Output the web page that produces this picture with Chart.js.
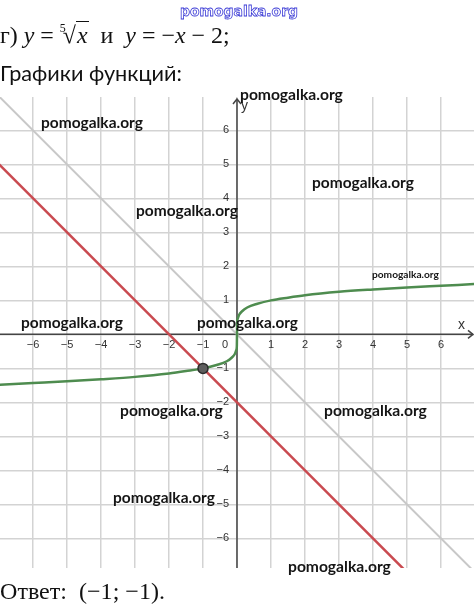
<!DOCTYPE html>
<html>
<head>
<meta charset="utf-8">
<script src="https://cdn.jsdelivr.net/npm/chart.js@4.4.0/dist/chart.umd.min.js"></script>
<style>
  html, body { margin: 0; padding: 0; background: #fff; }
  #wrap { position: relative; width: 474px; height: 608px; overflow: hidden; }
  #chart { position: absolute; left: 0; top: 0; }
  .t { position: absolute; left: 0; top: 0; white-space: nowrap; line-height: 1; }
  .wm { font-family: Lato, "Open Sans", sans-serif; font-weight: bold; color: #151515; font-size: 17px; }
  .serif { font-family: "Liberation Serif", "DejaVu Serif", serif; color: #111; font-size: 21px; }
  .serif i { font-style: italic; }
  .sans { font-family: Lato, "Open Sans", sans-serif; color: #111; font-size: 21px; }
  .blue { font-family: "DejaVu Sans", Verdana, sans-serif; font-weight: bold; font-size: 15px; color: #fff;
          -webkit-text-stroke: 0.8px #3b3bd6; }
  .rad { border-top: 1px solid #111; padding: 0 1px; }
  .idx { font-size: 0.5em; vertical-align: 0.9em; margin-right: -0.25em; }
</style>
</head>
<body>
<div id="wrap">
  <canvas id="chart" width="474" height="608"></canvas>
  <div class="t blue" id="wmTop">pomogalka.org</div>
  <div class="t serif" id="task">г) <i>y</i> = <span class="idx">5</span>√<span class="rad"><i>x</i></span>&nbsp; и&nbsp; <i>y</i> = −<i>x</i> − 2;</div>
  <div class="t sans" id="head">Графики функций:</div>
  <div class="t serif" id="answer">Ответ:&nbsp; (−1; −1).</div>
</div>
<script>
// values of the graph
const xTickValues = [-6, -5, -4, -3, -2, -1, 0, 1, 2, 3, 4, 5, 6];
const xTickLabels = ['−6', '−5', '−4', '−3', '−2', '−1', '0', '1', '2', '3', '4', '5', '6'];
const yTickValues = [-6, -5, -4, -3, -2, -1, 0, 1, 2, 3, 4, 5, 6];
const yTickLabels = ['−6', '−5', '−4', '−3', '−2', '−1', '', '1', '2', '3', '4', '5', '6'];

// y = -x (gray)
const grayX = [-7, 7];
const grayY = [7, -7];
// y = -x - 2 (red)
const redX = [-7, 5];
const redY = [5, -7];
// y = fifth root of x (green)
const curveX = [-7, -6, -5, -4, -3, -2, -1.5, -1, -0.6, -0.3, -0.15, -0.06, -0.02, -0.005, 0,
                0.005, 0.02, 0.06, 0.15, 0.3, 0.6, 1, 1.5, 2, 3, 4, 5, 6, 7];
const curveY = [-1.48, -1.43, -1.38, -1.32, -1.25, -1.15, -1.08, -1, -0.9, -0.79, -0.68, -0.57, -0.46, -0.35, 0,
                0.35, 0.46, 0.57, 0.68, 0.79, 0.9, 1, 1.08, 1.15, 1.25, 1.32, 1.38, 1.43, 1.48];
// intersection point
const pointX = [-1];
const pointY = [-1];

const watermarks = [
  // text, left, baseline, width
  ['pomogalka.org', 240, 100, 103],
  ['pomogalka.org', 41, 128, 102],
  ['pomogalka.org', 136, 216, 102],
  ['pomogalka.org', 312, 188, 102],
  ['pomogalka.org', 372, 278, 67],
  ['pomogalka.org', 21, 328, 102],
  ['pomogalka.org', 197, 328, 101],
  ['pomogalka.org', 120, 416, 103],
  ['pomogalka.org', 324, 416, 103],
  ['pomogalka.org', 113, 503, 102],
  ['pomogalka.org', 288, 572, 103]
];

const zip = (xs, ys) => xs.map((x, i) => ({ x: x, y: ys[i] }));

function setTicks(values) {
  return function (scale) {
    scale.ticks = values.map(v => ({ value: v }));
  };
}

const axesPlugin = {
  id: 'axesPlugin',
  beforeDatasetsDraw(chart) {
    const ctx = chart.ctx;
    const xs = chart.scales.x;
    const ys = chart.scales.y;
    const area = chart.chartArea;
    const ox = xs.getPixelForValue(0);
    const oy = ys.getPixelForValue(0);

    ctx.save();
    ctx.strokeStyle = '#444';
    ctx.lineWidth = 1.5;
    // x axis
    ctx.beginPath();
    ctx.moveTo(area.left, oy);
    ctx.lineTo(area.right - 1, oy);
    ctx.stroke();
    ctx.beginPath();
    ctx.moveTo(area.right - 6, oy - 4);
    ctx.lineTo(area.right - 1, oy);
    ctx.lineTo(area.right - 6, oy + 4);
    ctx.stroke();
    // y axis
    ctx.beginPath();
    ctx.moveTo(ox, area.bottom);
    ctx.lineTo(ox, area.top + 2);
    ctx.stroke();
    ctx.beginPath();
    ctx.moveTo(ox - 4, area.top + 7);
    ctx.lineTo(ox, area.top + 2);
    ctx.lineTo(ox + 4, area.top + 7);
    ctx.stroke();

    // tick labels
    ctx.fillStyle = '#333';
    ctx.font = '11px "Liberation Sans", Arial, sans-serif';
    ctx.textBaseline = 'middle';
    xTickValues.forEach((v, i) => {
      if (v === 0) {
        ctx.textAlign = 'right';
        ctx.fillText(xTickLabels[i], ox - 9, oy + 11);
      } else {
        ctx.textAlign = 'center';
        ctx.fillText(xTickLabels[i], xs.getPixelForValue(v), oy + 11);
      }
    });
    ctx.textAlign = 'right';
    yTickValues.forEach((v, i) => {
      if (yTickLabels[i]) ctx.fillText(yTickLabels[i], ox - 8, ys.getPixelForValue(v));
    });

    // axis names
    ctx.font = '14px "Liberation Sans", Arial, sans-serif';
    ctx.textBaseline = 'alphabetic';
    ctx.textAlign = 'center';
    ctx.fillText('x', xs.getPixelForValue(6.6), oy - 5);
    ctx.textAlign = 'left';
    ctx.fillText('y', ox + 4, ys.getPixelForValue(6.6));
    ctx.restore();
  }
};

const ctx = document.getElementById('chart').getContext('2d');

new Chart(ctx, {
  type: 'scatter',
  data: {
    datasets: [
      {
        label: 'A',
        data: zip(pointX, pointY),
        pointRadius: 5,
        pointBackgroundColor: '#5e5e5e',
        pointBorderColor: '#2c2c2c',
        pointBorderWidth: 1.5,
        showLine: false,
        order: 0
      },
      {
        label: 'y = x^(1/5)',
        data: zip(curveX, curveY),
        borderColor: '#4e8c4f',
        borderWidth: 2.5,
        pointRadius: 0,
        showLine: true,
        cubicInterpolationMode: 'monotone',
        order: 1
      },
      {
        label: 'y = -x - 2',
        data: zip(redX, redY),
        borderColor: '#c94a50',
        borderWidth: 2.5,
        pointRadius: 0,
        showLine: true,
        order: 2
      },
      {
        label: 'y = -x',
        data: zip(grayX, grayY),
        borderColor: '#c8c8c8',
        borderWidth: 2,
        pointRadius: 0,
        showLine: true,
        order: 3
      }
    ]
  },
  options: {
    responsive: false,
    animation: false,
    events: [],
    layout: { autoPadding: false, padding: { top: 97, bottom: 40, left: 0, right: 0 } },
    plugins: {
      legend: { display: false },
      tooltip: { enabled: false }
    },
    scales: {
      x: {
        type: 'linear',
        min: -6.97,
        max: 6.97,
        afterBuildTicks: setTicks(xTickValues),
        ticks: { display: false },
        grid: { color: '#d3d3d3', lineWidth: 1.5, drawTicks: false },
        border: { display: false }
      },
      y: {
        type: 'linear',
        min: -6.87,
        max: 6.98,
        afterBuildTicks: setTicks(yTickValues),
        ticks: { display: false },
        grid: { color: '#d3d3d3', lineWidth: 1.5, drawTicks: false },
        border: { display: false }
      }
    }
  },
  plugins: [axesPlugin]
});

// text placement: left edge, baseline and (optional) width
function place(el, x, base, w) {
  el.style.left = x + 'px';
  el.style.top = '0px';
  if (w) {
    const fs = parseFloat(getComputedStyle(el).fontSize);
    el.style.fontSize = (fs * w / el.getBoundingClientRect().width).toFixed(2) + 'px';
  }
  const mark = document.createElement('span');
  mark.style.cssText = 'display:inline-block;width:0;height:0;';
  el.appendChild(mark);
  const b = mark.getBoundingClientRect().top - el.getBoundingClientRect().top;
  el.style.top = (base - b) + 'px';
}

const wrap = document.getElementById('wrap');
watermarks.forEach(([text, x, base, w]) => {
  const el = document.createElement('div');
  el.className = 't wm';
  el.textContent = text;
  wrap.appendChild(el);
  place(el, x, base, w);
});
place(document.getElementById('wmTop'), 180, 16, 118);
place(document.getElementById('task'), 0, 43, 230);
place(document.getElementById('head'), 0, 81, 182);
place(document.getElementById('answer'), 0, 599, 165);
</script>
</body>
</html>
